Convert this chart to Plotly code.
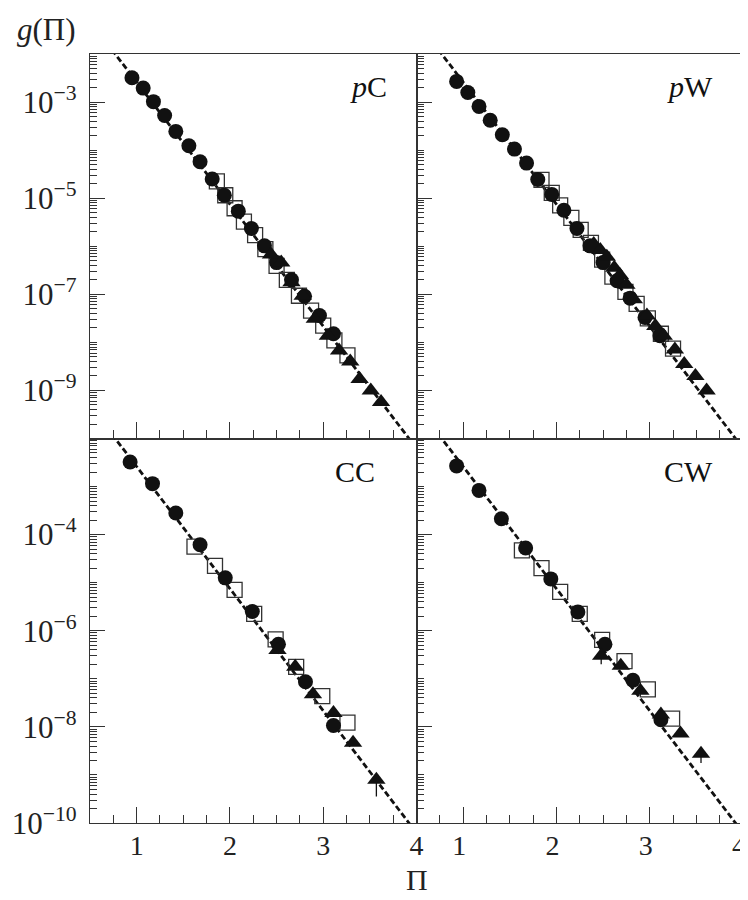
import plotly.graph_objects as go
from plotly.subplots import make_subplots

# ---- pC ----
pc_circ_x = [0.95, 1.07, 1.18, 1.30, 1.42, 1.56, 1.68, 1.81, 1.94, 2.09, 2.23, 2.37, 2.50, 2.66, 2.80, 2.96, 3.11]
pc_circ_y = [3.2e-3, 1.95e-3, 1.02e-3, 5.25e-4, 2.45e-4, 1.23e-4, 5.75e-5, 2.51e-5, 1.15e-5, 5.37e-6,
             2.34e-6, 1.02e-6, 4.57e-7, 2.0e-7, 9.1e-8, 3.63e-8, 1.51e-8]
pc_sq_x = [1.86, 1.95, 2.05, 2.15, 2.27, 2.38, 2.50, 2.61, 2.74, 2.87, 3.00, 3.12, 3.26]
pc_sq_y = [2.24e-5, 1.15e-5, 6.17e-6, 3.24e-6, 1.70e-6, 8.71e-7, 3.89e-7, 2.0e-7, 9.33e-8, 4.57e-8,
           2.24e-8, 1.10e-8, 5.37e-9]
pc_tri_x = [2.44, 2.55, 2.66, 2.78, 2.91, 3.05, 3.17, 3.29, 3.39, 3.51, 3.62]
pc_tri_y = [6.76e-7, 4.57e-7, 1.78e-7, 9.33e-8, 3.09e-8, 1.38e-8, 6.76e-9, 3.98e-9, 1.74e-9, 1.0e-9, 5.75e-10]

# ---- pW ----
pw_circ_x = [0.93, 1.05, 1.17, 1.29, 1.42, 1.55, 1.68, 1.80, 1.95, 2.08, 2.22, 2.36, 2.50, 2.65, 2.79, 2.95, 3.11]
pw_circ_y = [2.69e-3, 1.58e-3, 8.13e-4, 4.17e-4, 2.09e-4, 1.05e-4, 5.37e-5, 2.45e-5, 1.20e-5, 5.62e-6,
             2.34e-6, 1.02e-6, 4.57e-7, 1.91e-7, 8.32e-8, 3.31e-8, 1.38e-8]
pw_sq_x = [1.84, 1.95, 2.04, 2.16, 2.26, 2.37, 2.49, 2.60, 2.74, 2.86, 2.98, 3.12, 3.25]
pw_sq_y = [2.40e-5, 1.29e-5, 7.08e-6, 3.89e-6, 2.19e-6, 1.17e-6, 5.25e-7, 2.34e-7, 1.12e-7, 6.31e-8,
           3.16e-8, 1.51e-8, 7.41e-9]
pw_tri_x = [2.40, 2.47, 2.54, 2.62, 2.68, 2.75, 2.83, 2.97, 3.06, 3.15, 3.27, 3.37, 3.49, 3.61]
pw_tri_y = [1.12e-6, 8.32e-7, 6.03e-7, 3.55e-7, 2.51e-7, 1.58e-7, 7.94e-8, 3.63e-8, 2.19e-8, 1.38e-8,
            7.08e-9, 3.55e-9, 2.0e-9, 1.0e-9]

# ---- CC ----
cc_circ_x = [0.93, 1.17, 1.42, 1.68, 1.95, 2.24, 2.52, 2.81, 3.11]
cc_circ_y = [3.24e-3, 1.15e-3, 2.82e-4, 6.17e-5, 1.26e-5, 2.51e-6, 5.25e-7, 8.71e-8, 1.07e-8]
cc_sq_x = [1.62, 1.84, 2.05, 2.26, 2.49, 2.71, 2.99, 3.26]
cc_sq_y = [5.62e-5, 2.24e-5, 7.08e-6, 2.24e-6, 6.61e-7, 1.78e-7, 4.37e-8, 1.23e-8]
cc_tri_x = [2.51, 2.70, 2.89, 3.11, 3.32, 3.57]
cc_tri_y = [3.98e-7, 1.78e-7, 4.79e-8, 1.95e-8, 4.68e-9, 7.94e-10]
cc_tri_err = [0, 0, 0, 0, 0, 4.4e-10]

# ---- CW ----
cw_circ_x = [0.93, 1.17, 1.41, 1.67, 1.94, 2.23, 2.52, 2.82, 3.12]
cw_circ_y = [2.69e-3, 8.32e-4, 2.14e-4, 5.25e-5, 1.20e-5, 2.45e-6, 5.25e-7, 9.33e-8, 1.41e-8]
cw_sq_x = [1.63, 1.84, 2.04, 2.25, 2.49, 2.73, 2.98, 3.24]
cw_sq_y = [4.68e-5, 2.0e-5, 6.46e-6, 2.24e-6, 6.46e-7, 2.34e-7, 6.03e-8, 1.48e-8]
cw_tri_x = [2.48, 2.69, 2.90, 3.12, 3.33, 3.55]
cw_tri_y = [3.02e-7, 1.86e-7, 5.62e-8, 1.82e-8, 7.24e-9, 2.75e-9]
cw_tri_err = [1.0e-7, 0, 0, 0, 0, 9.7e-10]

# ajuste exponencial: log10 g = a + b*Pi
fit_a = -0.044
fit_b = -2.54
fit_x = [0.5, 4.0]

paineis = [
    ("<i>p</i>C", 1, 1, pc_circ_x, pc_circ_y, pc_sq_x, pc_sq_y, pc_tri_x, pc_tri_y, None),
    ("<i>p</i>W", 1, 2, pw_circ_x, pw_circ_y, pw_sq_x, pw_sq_y, pw_tri_x, pw_tri_y, None),
    ("CC", 2, 1, cc_circ_x, cc_circ_y, cc_sq_x, cc_sq_y, cc_tri_x, cc_tri_y, cc_tri_err),
    ("CW", 2, 2, cw_circ_x, cw_circ_y, cw_sq_x, cw_sq_y, cw_tri_x, cw_tri_y, cw_tri_err),
]

FONTE = '"Liberation Serif", "Times New Roman", serif'
PRETO = "#111111"
CINZA = "#333333"

fig = make_subplots(rows=2, cols=2, horizontal_spacing=0, vertical_spacing=0)

for nome, r, c, cx, cy, sx, sy, tx, ty, terr in paineis:
    fig.add_trace(go.Scatter(
        x=fit_x, y=[10 ** (fit_a + fit_b * v) for v in fit_x], mode="lines",
        line=dict(color=PRETO, width=2.8, dash="6px,3px"), showlegend=False,
        hoverinfo="skip"), row=r, col=c)
    fig.add_trace(go.Scatter(
        x=sx, y=sy, mode="markers", showlegend=False,
        marker=dict(symbol="square-open", size=15, color=CINZA, line=dict(width=1.3))),
        row=r, col=c)
    fig.add_trace(go.Scatter(
        x=cx, y=cy, mode="markers", showlegend=False,
        marker=dict(symbol="circle", size=15, color=PRETO)), row=r, col=c)
    err = None
    if terr is not None:
        err = dict(type="data", symmetric=False, array=[0] * len(terr), arrayminus=terr,
                   color=PRETO, thickness=1.3, width=0)
    fig.add_trace(go.Scatter(
        x=tx, y=ty, mode="markers", showlegend=False, error_y=err,
        marker=dict(symbol="triangle-up", size=16, color=PRETO)), row=r, col=c)

    idx = (r - 1) * 2 + c
    sufixo = "" if idx == 1 else str(idx)
    fig.add_annotation(
        text=nome, xref="x%s domain" % sufixo, yref="y%s domain" % sufixo,
        x=0.915 if not (r == 2 and c == 1) else 0.88, y=0.915, xanchor="right", yanchor="middle",
        showarrow=False, font=dict(family=FONTE, size=30, color=PRETO))

# eixos
for r in (1, 2):
    expoentes = [-3, -5, -7, -9] if r == 1 else [-4, -6, -8, -10]
    maiores = [10.0 ** e for e in expoentes]
    menores = []
    for k in range(-10, -1):
        for m in range(1, 10):
            if m == 1 and k in expoentes:
                continue
            menores.append(m * 10.0 ** k)
    for c in (1, 2):
        fig.update_yaxes(
            type="log", range=[-10, -2], tickvals=maiores,
            ticktext=["10<sup>\u2212%d</sup>" % (-e) for e in expoentes],
            showticklabels=(c == 1), ticks="inside", ticklen=15, tickwidth=1, tickcolor=CINZA,
            minor=dict(tickmode="array", tickvals=menores, ticks="inside", ticklen=7,
                       tickwidth=1, tickcolor=CINZA, showgrid=False),
            showline=True, linecolor=CINZA, linewidth=1.3, mirror=True,
            showgrid=False, zeroline=False, ticklabelstandoff=6, automargin=False,
            tickfont=dict(family=FONTE, size=31, color="#222222"),
            row=r, col=c)
        fig.update_xaxes(
            range=[0.5, 4.0001], tickvals=[1, 2, 3, 4],
            showticklabels=(r == 2), ticklabeloverflow="allow",
            ticklabelshift=(0 if c == 1 else -4),
            ticks="inside", ticklen=16, tickwidth=1, tickcolor=CINZA,
            minor=dict(dtick=0.25, tick0=0, ticks="inside", ticklen=8, tickwidth=1,
                       tickcolor=CINZA, showgrid=False),
            showline=True, linecolor=CINZA, linewidth=1.3, mirror=True,
            showgrid=False, zeroline=False, automargin=False, ticklabelstandoff=-3,
            tickfont=dict(family=FONTE, size=28, color="#222222"),
            row=r, col=c)

fig.add_annotation(text="<i>g</i>(\u03a0)", xref="paper", yref="paper", x=-0.115, y=1.0325,
                   xanchor="left", yanchor="middle", showarrow=False,
                   font=dict(family=FONTE, size=31, color="#222222"))
fig.add_annotation(text="\u03a0", xref="paper", yref="paper", x=0.5, y=-0.074,
                   xanchor="center", yanchor="middle", showarrow=False,
                   font=dict(family=FONTE, size=30, color="#222222"))

# a pagina tem margem de 8px no body: a figura fica 8px menor
fig.update_layout(
    template="none",
    width=740, height=892,
    margin=dict(l=82, r=5, t=46, b=77),
    plot_bgcolor="white", paper_bgcolor="white",
    font=dict(family=FONTE, color="#222222"),
)

fig.write_html("out.html")
